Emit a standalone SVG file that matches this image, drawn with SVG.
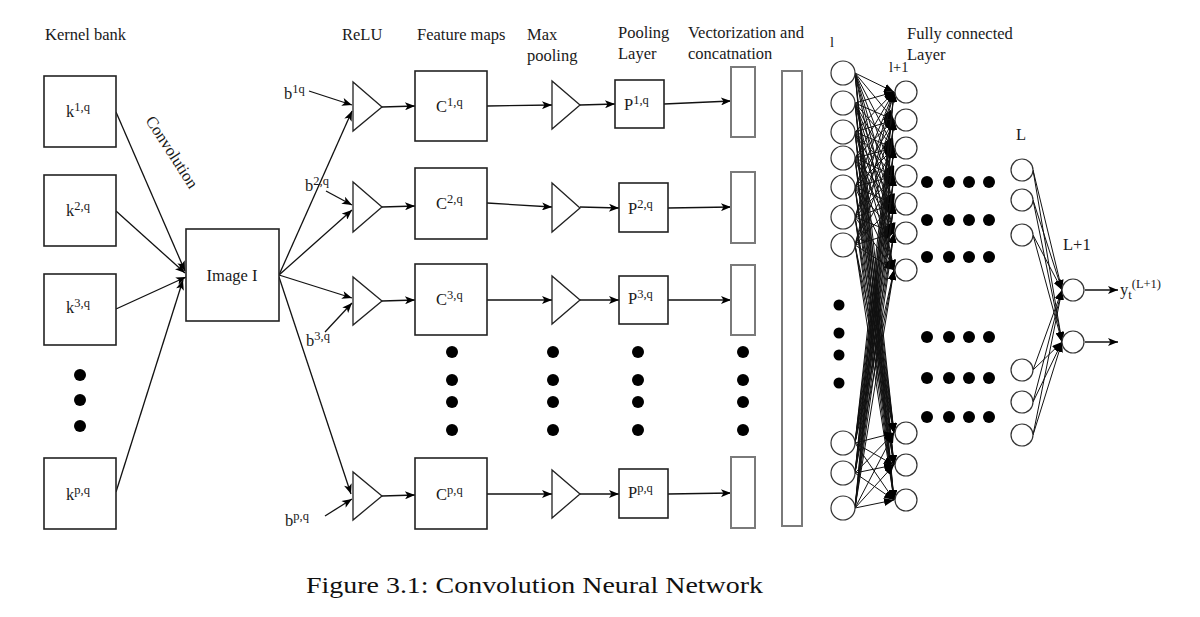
<svg xmlns="http://www.w3.org/2000/svg" width="1200" height="617" viewBox="0 0 1200 617">
<defs>
<style>
text{font-family:"Liberation Serif","Times New Roman",serif;fill:#1a1a1a;font-size:16.5px}
.box{fill:#fff;stroke:#222;stroke-width:1.6}
.vec{fill:#fff;stroke:#7a7a7a;stroke-width:2}
.tri{fill:#fff;stroke:#222;stroke-width:1.3}
.neu{fill:#fff;stroke:#333;stroke-width:1.2}
.ln{stroke:#111;stroke-width:1.3;fill:none}
.thin{stroke:#111;stroke-width:1;fill:none}
.dot{fill:#000}
.sup{font-size:12.5px}
.small{font-size:14.5px}
.cap{font-size:24px;fill:#111}
.mid{text-anchor:middle}
</style>
<marker id="ah" viewBox="0 0 10 8" refX="10" refY="4" markerWidth="11" markerHeight="8" markerUnits="userSpaceOnUse" orient="auto"><path d="M0,0 L10,4 L0,8 L2.5,4 z" fill="#000"/></marker>
<marker id="as" viewBox="0 0 10 8" refX="10" refY="4" markerWidth="10" markerHeight="8" markerUnits="userSpaceOnUse" orient="auto"><path d="M0,0 L10,4 L0,8 z" fill="#000"/></marker>
</defs>
<rect width="1200" height="617" fill="#fff"/>

<!-- headers -->
<g id="headers">
<text x="45" y="40">Kernel bank</text>
<text x="342" y="40">ReLU</text>
<text x="417" y="40">Feature maps</text>
<text x="527" y="40">Max</text>
<text x="527" y="61">pooling</text>
<text x="618" y="38">Pooling</text>
<text x="618" y="59">Layer</text>
<text x="688" y="38">Vectorization and</text>
<text x="688" y="59">concatnation</text>
<text x="830" y="47" class="small">l</text>
<text x="907" y="39">Fully connected</text>
<text x="907" y="60">Layer</text>
<text x="889" y="72" class="small">l+1</text>
<text x="1016" y="140">L</text>
<text x="1063" y="250">L+1</text>
<text transform="translate(172,152) rotate(57)" class="mid" dominant-baseline="central">Convolution</text>
</g>

<!-- connectors -->
<g id="connectors">
<g class="ln" marker-end="url(#ah)">
<line x1="116" y1="112" x2="185" y2="271"/>
<line x1="116" y1="211" x2="185" y2="273"/>
<line x1="116" y1="309" x2="186" y2="277"/>
<line x1="116" y1="492" x2="183" y2="280"/>
<line x1="279" y1="275" x2="352" y2="111"/>
<line x1="279" y1="275" x2="352" y2="210"/>
<line x1="279" y1="275" x2="352" y2="298"/>
<line x1="279" y1="277" x2="351" y2="494"/>
<line x1="309" y1="91" x2="352" y2="105"/>
<line x1="326" y1="191" x2="352" y2="205"/>
<line x1="325" y1="332" x2="352" y2="303"/>
<line x1="325" y1="516" x2="352" y2="499"/>
<line x1="382" y1="107" x2="415" y2="106"/>
<line x1="382" y1="207" x2="415" y2="206"/>
<line x1="382" y1="301" x2="415" y2="300"/>
<line x1="382" y1="496" x2="415" y2="495"/>
<line x1="487" y1="106" x2="552" y2="105"/>
<line x1="487" y1="203" x2="552" y2="207"/>
<line x1="487" y1="300" x2="552" y2="300"/>
<line x1="487" y1="494" x2="552" y2="494"/>
<line x1="580" y1="105" x2="615" y2="104"/>
<line x1="580" y1="207" x2="619" y2="208"/>
<line x1="580" y1="300" x2="619" y2="300"/>
<line x1="580" y1="494" x2="619" y2="494"/>
<line x1="664" y1="104" x2="731" y2="101"/>
<line x1="668" y1="208" x2="731" y2="207"/>
<line x1="668" y1="300" x2="731" y2="300"/>
<line x1="668" y1="494" x2="731" y2="493"/>
<line x1="1085" y1="290" x2="1118" y2="290"/>
<line x1="1085" y1="342" x2="1118" y2="342"/>
</g>
<g class="thin" marker-end="url(#as)">
<line x1="855" y1="73" x2="894" y2="92"/><line x1="855" y1="73" x2="894" y2="120"/><line x1="855" y1="73" x2="894" y2="148"/><line x1="855" y1="73" x2="894" y2="176"/><line x1="855" y1="73" x2="894" y2="204"/><line x1="855" y1="73" x2="894" y2="233"/><line x1="855" y1="73" x2="894" y2="270"/><line x1="855" y1="73" x2="894" y2="433"/><line x1="855" y1="73" x2="894" y2="465"/><line x1="855" y1="73" x2="894" y2="500"/>
<line x1="855" y1="103" x2="894" y2="92"/><line x1="855" y1="103" x2="894" y2="120"/><line x1="855" y1="103" x2="894" y2="148"/><line x1="855" y1="103" x2="894" y2="176"/><line x1="855" y1="103" x2="894" y2="204"/><line x1="855" y1="103" x2="894" y2="233"/><line x1="855" y1="103" x2="894" y2="270"/><line x1="855" y1="103" x2="894" y2="433"/><line x1="855" y1="103" x2="894" y2="465"/><line x1="855" y1="103" x2="894" y2="500"/>
<line x1="855" y1="132" x2="894" y2="92"/><line x1="855" y1="132" x2="894" y2="120"/><line x1="855" y1="132" x2="894" y2="148"/><line x1="855" y1="132" x2="894" y2="176"/><line x1="855" y1="132" x2="894" y2="204"/><line x1="855" y1="132" x2="894" y2="233"/><line x1="855" y1="132" x2="894" y2="270"/><line x1="855" y1="132" x2="894" y2="433"/><line x1="855" y1="132" x2="894" y2="465"/><line x1="855" y1="132" x2="894" y2="500"/>
<line x1="855" y1="158" x2="894" y2="92"/><line x1="855" y1="158" x2="894" y2="120"/><line x1="855" y1="158" x2="894" y2="148"/><line x1="855" y1="158" x2="894" y2="176"/><line x1="855" y1="158" x2="894" y2="204"/><line x1="855" y1="158" x2="894" y2="233"/><line x1="855" y1="158" x2="894" y2="270"/><line x1="855" y1="158" x2="894" y2="433"/><line x1="855" y1="158" x2="894" y2="465"/><line x1="855" y1="158" x2="894" y2="500"/>
<line x1="855" y1="187" x2="894" y2="92"/><line x1="855" y1="187" x2="894" y2="120"/><line x1="855" y1="187" x2="894" y2="148"/><line x1="855" y1="187" x2="894" y2="176"/><line x1="855" y1="187" x2="894" y2="204"/><line x1="855" y1="187" x2="894" y2="233"/><line x1="855" y1="187" x2="894" y2="270"/><line x1="855" y1="187" x2="894" y2="433"/><line x1="855" y1="187" x2="894" y2="465"/><line x1="855" y1="187" x2="894" y2="500"/>
<line x1="855" y1="217" x2="894" y2="92"/><line x1="855" y1="217" x2="894" y2="120"/><line x1="855" y1="217" x2="894" y2="148"/><line x1="855" y1="217" x2="894" y2="176"/><line x1="855" y1="217" x2="894" y2="204"/><line x1="855" y1="217" x2="894" y2="233"/><line x1="855" y1="217" x2="894" y2="270"/><line x1="855" y1="217" x2="894" y2="433"/><line x1="855" y1="217" x2="894" y2="465"/><line x1="855" y1="217" x2="894" y2="500"/>
<line x1="855" y1="245" x2="894" y2="92"/><line x1="855" y1="245" x2="894" y2="120"/><line x1="855" y1="245" x2="894" y2="148"/><line x1="855" y1="245" x2="894" y2="176"/><line x1="855" y1="245" x2="894" y2="204"/><line x1="855" y1="245" x2="894" y2="233"/><line x1="855" y1="245" x2="894" y2="270"/><line x1="855" y1="245" x2="894" y2="433"/><line x1="855" y1="245" x2="894" y2="465"/><line x1="855" y1="245" x2="894" y2="500"/>
<line x1="855" y1="443" x2="894" y2="92"/><line x1="855" y1="443" x2="894" y2="120"/><line x1="855" y1="443" x2="894" y2="148"/><line x1="855" y1="443" x2="894" y2="176"/><line x1="855" y1="443" x2="894" y2="204"/><line x1="855" y1="443" x2="894" y2="233"/><line x1="855" y1="443" x2="894" y2="270"/><line x1="855" y1="443" x2="894" y2="433"/><line x1="855" y1="443" x2="894" y2="465"/><line x1="855" y1="443" x2="894" y2="500"/>
<line x1="855" y1="473" x2="894" y2="92"/><line x1="855" y1="473" x2="894" y2="120"/><line x1="855" y1="473" x2="894" y2="148"/><line x1="855" y1="473" x2="894" y2="176"/><line x1="855" y1="473" x2="894" y2="204"/><line x1="855" y1="473" x2="894" y2="233"/><line x1="855" y1="473" x2="894" y2="270"/><line x1="855" y1="473" x2="894" y2="433"/><line x1="855" y1="473" x2="894" y2="465"/><line x1="855" y1="473" x2="894" y2="500"/>
<line x1="855" y1="508" x2="894" y2="92"/><line x1="855" y1="508" x2="894" y2="120"/><line x1="855" y1="508" x2="894" y2="148"/><line x1="855" y1="508" x2="894" y2="176"/><line x1="855" y1="508" x2="894" y2="204"/><line x1="855" y1="508" x2="894" y2="233"/><line x1="855" y1="508" x2="894" y2="270"/><line x1="855" y1="508" x2="894" y2="433"/><line x1="855" y1="508" x2="894" y2="465"/><line x1="855" y1="508" x2="894" y2="500"/>
<line x1="1033" y1="170" x2="1062" y2="290"/><line x1="1033" y1="170" x2="1062" y2="342"/>
<line x1="1033" y1="200" x2="1062" y2="290"/><line x1="1033" y1="200" x2="1062" y2="342"/>
<line x1="1033" y1="235" x2="1062" y2="290"/><line x1="1033" y1="235" x2="1062" y2="342"/>
<line x1="1033" y1="370" x2="1062" y2="290"/><line x1="1033" y1="370" x2="1062" y2="342"/>
<line x1="1033" y1="402" x2="1062" y2="290"/><line x1="1033" y1="402" x2="1062" y2="342"/>
<line x1="1033" y1="435" x2="1062" y2="290"/><line x1="1033" y1="435" x2="1062" y2="342"/>
</g>
</g>

<!-- kernel bank -->
<g id="k1"><rect class="box" x="44" y="76" width="72" height="71"/><text x="66" y="117">k<tspan class="sup" dy="-6">1,q</tspan></text></g>
<g id="k2"><rect class="box" x="44" y="175" width="72" height="71"/><text x="66" y="216">k<tspan class="sup" dy="-6">2,q</tspan></text></g>
<g id="k3"><rect class="box" x="44" y="274" width="72" height="71"/><text x="66" y="313">k<tspan class="sup" dy="-6">3,q</tspan></text></g>
<g id="kdots"><circle class="dot" cx="80" cy="375" r="6"/><circle class="dot" cx="80" cy="400" r="6"/><circle class="dot" cx="80" cy="426" r="6"/></g>
<g id="kp"><rect class="box" x="44" y="458" width="72" height="71"/><text x="66" y="500">k<tspan class="sup" dy="-6">p,q</tspan></text></g>

<!-- image -->
<g id="image"><rect class="box" x="186" y="229" width="93" height="92"/><text x="232" y="281" class="mid">Image I</text></g>

<!-- bias labels -->
<g id="bias">
<text x="284" y="99">b<tspan class="sup" dy="-6">1q</tspan></text>
<text x="305" y="191">b<tspan class="sup" dy="-6">2,q</tspan></text>
<text x="306" y="346">b<tspan class="sup" dy="-6">3,q</tspan></text>
<text x="285" y="526">b<tspan class="sup" dy="-6">p,q</tspan></text>
</g>

<!-- ReLU -->
<g id="relu1"><path class="tri" d="M353,82 L353,131 L382,107 z"/></g>
<g id="relu2"><path class="tri" d="M353,182 L353,232 L382,207 z"/></g>
<g id="relu3"><path class="tri" d="M353,277 L353,325 L382,301 z"/></g>
<g id="relup"><path class="tri" d="M353,472 L353,520 L382,496 z"/></g>

<!-- Feature maps -->
<g id="c1"><rect class="box" x="415" y="71" width="72" height="70"/><text x="436" y="112">C<tspan class="sup" dy="-6">1,q</tspan></text></g>
<g id="c2"><rect class="box" x="415" y="168" width="72" height="71"/><text x="436" y="209">C<tspan class="sup" dy="-6">2,q</tspan></text></g>
<g id="c3"><rect class="box" x="415" y="264" width="72" height="71"/><text x="436" y="305">C<tspan class="sup" dy="-6">3,q</tspan></text></g>
<g id="cp"><rect class="box" x="415" y="458" width="72" height="71"/><text x="436" y="500">C<tspan class="sup" dy="-6">p,q</tspan></text></g>

<!-- Max pooling -->
<g id="mp1"><path class="tri" d="M552,81 L552,129 L580,105 z"/></g>
<g id="mp2"><path class="tri" d="M552,183 L552,232 L580,208 z"/></g>
<g id="mp3"><path class="tri" d="M552,276 L552,324 L580,300 z"/></g>
<g id="mpp"><path class="tri" d="M552,470 L552,518 L580,494 z"/></g>

<!-- Pooling layer -->
<g id="p1"><rect class="box" x="615" y="80" width="49" height="48"/><text x="624" y="110">P<tspan class="sup" dy="-6">1,q</tspan></text></g>
<g id="p2"><rect class="box" x="619" y="183" width="49" height="49"/><text x="628" y="214">P<tspan class="sup" dy="-6">2,q</tspan></text></g>
<g id="p3"><rect class="box" x="619" y="276" width="49" height="48"/><text x="628" y="304">P<tspan class="sup" dy="-6">3,q</tspan></text></g>
<g id="pp"><rect class="box" x="619" y="469" width="49" height="49"/><text x="628" y="498">P<tspan class="sup" dy="-6">p,q</tspan></text></g>

<!-- Vectors -->
<g id="v1"><rect class="vec" x="731" y="67" width="24" height="70"/></g>
<g id="v2"><rect class="vec" x="731" y="172" width="24" height="71"/></g>
<g id="v3"><rect class="vec" x="731" y="265" width="24" height="70"/></g>
<g id="vp"><rect class="vec" x="731" y="457" width="24" height="71"/></g>
<g id="concat"><rect class="vec" x="782" y="71" width="20" height="455"/></g>

<!-- vertical dots -->
<g id="vdots">
<circle class="dot" cx="452" cy="352" r="6"/><circle class="dot" cx="452" cy="380" r="6"/><circle class="dot" cx="452" cy="402" r="6"/><circle class="dot" cx="452" cy="430" r="6"/>
<circle class="dot" cx="553" cy="352" r="6"/><circle class="dot" cx="553" cy="380" r="6"/><circle class="dot" cx="553" cy="402" r="6"/><circle class="dot" cx="553" cy="430" r="6"/>
<circle class="dot" cx="638" cy="352" r="6"/><circle class="dot" cx="638" cy="380" r="6"/><circle class="dot" cx="638" cy="402" r="6"/><circle class="dot" cx="638" cy="430" r="6"/>
<circle class="dot" cx="743" cy="352" r="6"/><circle class="dot" cx="743" cy="380" r="6"/><circle class="dot" cx="743" cy="402" r="6"/><circle class="dot" cx="743" cy="430" r="6"/>
<circle class="dot" cx="839" cy="305" r="5.5"/><circle class="dot" cx="839" cy="333" r="5.5"/><circle class="dot" cx="839" cy="355" r="5.5"/><circle class="dot" cx="839" cy="383" r="5.5"/>
</g>

<!-- layer l -->
<g id="layer-l">
<circle class="neu" cx="843" cy="73" r="12"/><circle class="neu" cx="843" cy="103" r="12"/><circle class="neu" cx="843" cy="132" r="12"/><circle class="neu" cx="843" cy="158" r="12"/><circle class="neu" cx="843" cy="187" r="12"/><circle class="neu" cx="843" cy="217" r="12"/><circle class="neu" cx="843" cy="245" r="12"/>
<circle class="neu" cx="843" cy="443" r="12"/><circle class="neu" cx="843" cy="473" r="12"/><circle class="neu" cx="843" cy="508" r="12"/>
</g>
<!-- layer l+1 -->
<g id="layer-l1">
<circle class="neu" cx="906" cy="92" r="11"/><circle class="neu" cx="906" cy="120" r="11"/><circle class="neu" cx="906" cy="148" r="11"/><circle class="neu" cx="906" cy="176" r="11"/><circle class="neu" cx="906" cy="204" r="11"/><circle class="neu" cx="906" cy="233" r="11"/><circle class="neu" cx="906" cy="270" r="11"/>
<circle class="neu" cx="906" cy="433" r="11"/><circle class="neu" cx="906" cy="465" r="11"/><circle class="neu" cx="906" cy="500" r="11"/>
</g>
<!-- dot grid -->
<g id="gridDots">
<circle class="dot" cx="927" cy="182" r="6"/><circle class="dot" cx="949" cy="182" r="6"/><circle class="dot" cx="969" cy="182" r="6"/><circle class="dot" cx="989" cy="182" r="6"/>
<circle class="dot" cx="927" cy="220" r="6"/><circle class="dot" cx="949" cy="220" r="6"/><circle class="dot" cx="969" cy="220" r="6"/><circle class="dot" cx="989" cy="220" r="6"/>
<circle class="dot" cx="927" cy="257" r="6"/><circle class="dot" cx="949" cy="257" r="6"/><circle class="dot" cx="969" cy="257" r="6"/><circle class="dot" cx="989" cy="257" r="6"/>
<circle class="dot" cx="927" cy="337" r="6"/><circle class="dot" cx="949" cy="337" r="6"/><circle class="dot" cx="969" cy="337" r="6"/><circle class="dot" cx="989" cy="337" r="6"/>
<circle class="dot" cx="927" cy="378" r="6"/><circle class="dot" cx="949" cy="378" r="6"/><circle class="dot" cx="969" cy="378" r="6"/><circle class="dot" cx="989" cy="378" r="6"/>
<circle class="dot" cx="927" cy="417" r="6"/><circle class="dot" cx="949" cy="417" r="6"/><circle class="dot" cx="969" cy="417" r="6"/><circle class="dot" cx="989" cy="417" r="6"/>
</g>
<!-- layer L -->
<g id="layer-L">
<circle class="neu" cx="1022" cy="170" r="11"/><circle class="neu" cx="1022" cy="200" r="11"/><circle class="neu" cx="1022" cy="235" r="11"/>
<circle class="neu" cx="1022" cy="370" r="11"/><circle class="neu" cx="1022" cy="402" r="11"/><circle class="neu" cx="1022" cy="435" r="11"/>
</g>
<!-- layer L+1 -->
<g id="layer-L1">
<circle class="neu" cx="1073" cy="290" r="11"/><circle class="neu" cx="1073" cy="342" r="11"/>
</g>
<g id="output"><text x="1120" y="295">y<tspan class="sup" dy="4">t</tspan><tspan class="sup" dy="-11">(L+1)</tspan></text></g>

<g id="caption"><text x="306" y="593" class="cap" textLength="457" lengthAdjust="spacingAndGlyphs">Figure 3.1: Convolution Neural Network</text></g>
</svg>
